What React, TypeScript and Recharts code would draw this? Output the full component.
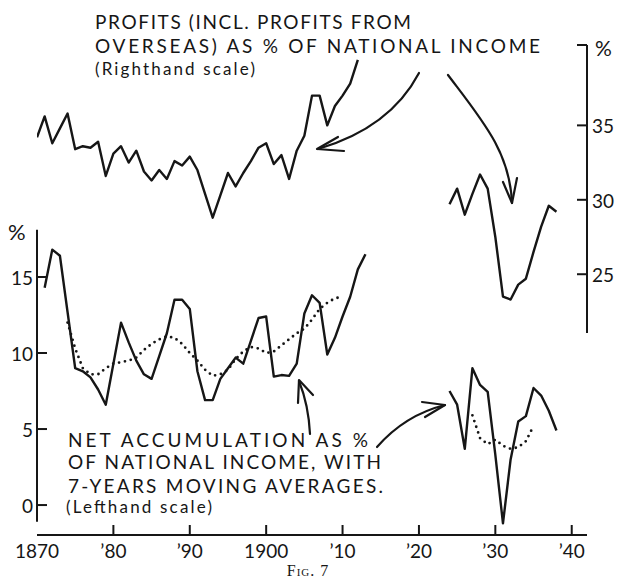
import { ComposedChart, Line, XAxis, YAxis, ReferenceLine } from 'recharts';

// profits (incl. profits from overseas) as % of national income, righthand scale
const PROFIT_EARLY_START = 1870;
const profitEarly = [
  34.2, 35.6, 33.8, 34.8, 35.8, 33.4, 33.6, 33.5, 33.9, 31.6,
  33.1, 33.6, 32.5, 33.3, 31.9, 31.3, 32.0, 31.4, 32.6, 32.3,
  32.9, 32.0, 30.4, 28.8, 30.3, 31.8, 30.9, 31.8, 32.6, 33.5,
  33.8, 32.4, 33.0, 31.4, 33.3, 34.3, 37.0, 37.0, 35.0, 36.3,
  37.0, 37.8, 39.4,
];
const PROFIT_LATE_START = 1924;
const profitLate = [29.7, 30.75, 29.0, 30.4, 31.7, 30.75, 27.5, 23.5, 23.3, 24.3, 24.7, 26.5, 28.2, 29.6, 29.2];

// net accumulation as % of national income, lefthand scale
const NET_EARLY_START = 1871;
const netEarly = [
  14.3, 16.8, 16.4, 12.7, 9.0, 8.8, 8.4, 7.6, 6.6, 9.3,
  12.0, 10.7, 9.5, 8.6, 8.3, 9.8, 11.3, 13.5, 13.5, 12.9,
  8.8, 6.9, 6.9, 8.3, 9.0, 9.7, 9.3, 10.8, 12.3, 12.4,
  8.45, 8.55, 8.5, 9.3, 12.6, 13.8, 13.3, 9.9, 11.0, 12.4,
  13.7, 15.5, 16.5,
];
const NET_LATE_START = 1924;
const netLate = [7.5, 6.6, 3.7, 9.0, 7.9, 7.45, 3.3, -1.2, 3.0, 5.5, 5.85, 7.7, 7.2, 6.2, 4.9];

// 7-years moving averages of net accumulation
const AVG_EARLY_START = 1874;
const avgEarly = [
  12.0, 10.3, 9.0, 8.6, 8.6, 9.0, 9.3, 9.4, 9.5, 9.7,
  10.2, 10.6, 10.9, 11.1, 11.0, 10.6, 10.0, 9.5, 8.9, 8.5,
  8.6, 8.9, 9.6, 10.1, 10.4, 10.3, 10.0, 10.1, 10.5, 10.9,
  11.3, 11.6, 12.2, 12.9, 13.3, 13.6, 13.7,
];
const AVG_LATE_START = 1927;
const avgLate = [5.9, 4.4, 4.0, 4.3, 3.9, 3.7, 3.8, 4.2, 5.2];

const yearTicks = [1870, 1880, 1890, 1900, 1910, 1920, 1930, 1940];
const yearLabels = ['1870', '\u201980', '\u201990', '1900', '\u201910', '\u201920', '\u201930', '\u201940'];
const leftTicks = [0, 5, 10, 15];
const rightTicks = [25, 30, 35];

const LEFT_DOMAIN = [-1.97, 30.26];
const RIGHT_DOMAIN = [7.48, 40.4];

const pick = (start: number, arr: number[], year: number) => {
  const i = year - start;
  return i >= 0 && i < arr.length ? arr[i] : null;
};

const data: { year: number; profit: number | null; net: number | null; avg: number | null }[] = [];
for (let y = 1870; y <= 1938; y++) {
  data.push({
    year: y,
    profit: pick(PROFIT_EARLY_START, profitEarly, y) ?? pick(PROFIT_LATE_START, profitLate, y),
    net: pick(NET_EARLY_START, netEarly, y) ?? pick(NET_LATE_START, netLate, y),
    avg: pick(AVG_EARLY_START, avgEarly, y) ?? pick(AVG_LATE_START, avgLate, y),
  });
}

const INK = '#161616';
const FONT = 'Lato, "Open Sans", sans-serif';

const YearTick = (props: any) => {
  const { x, y, payload } = props;
  const i = yearTicks.indexOf(payload.value);
  return (
    <g>
      {payload.value !== 1870 && <line x1={x} x2={x} y1={y - 10} y2={y} stroke={INK} strokeWidth={2} />}
      <text x={x} y={y + 23} textAnchor="middle" fontSize={19} fontFamily={FONT} fill={INK}>
        {yearLabels[i]}
      </text>
    </g>
  );
};

const LeftTick = (props: any) => {
  const { x, y, payload } = props;
  return (
    <g>
      <line x1={x} x2={x + 10} y1={y} y2={y} stroke={INK} strokeWidth={2} />
      <text x={x - 4} y={y + 8} textAnchor="end" fontSize={19} fontFamily={FONT} fill={INK}>
        {payload.value}
      </text>
    </g>
  );
};

const RightTick = (props: any) => {
  const { x, y, payload } = props;
  const isUnit = payload.value === RIGHT_DOMAIN[1];
  return (
    <g>
      <line x1={x - 10} x2={x} y1={y} y2={y} stroke={INK} strokeWidth={2} />
      <text x={x + (isUnit ? 8 : 5)} y={y + (isUnit ? 11 : 8)} fontSize={isUnit ? 21 : 19} fontFamily={FONT} fill={INK}>
        {isUnit ? '%' : payload.value}
      </text>
    </g>
  );
};

export default function App() {
  const textStyle = { fontFamily: FONT, fill: INK } as const;
  return (
    <div style={{ position: 'absolute', left: 0, top: 0, width: 620, height: 578, background: '#fff' }}>
      <ComposedChart width={620} height={578} data={data} margin={{ top: 45, right: 1, bottom: 3, left: 1 }}>
        <XAxis
          dataKey="year"
          type="number"
          domain={[1870, 1942]}
          allowDataOverflow
          ticks={yearTicks}
          interval={0}
          height={40}
          tickSize={0}
          tickMargin={0}
          tickLine={false}
          axisLine={{ stroke: INK, strokeWidth: 2 }}
          tick={<YearTick />}
        />
        <YAxis
          yAxisId="left"
          orientation="left"
          type="number"
          domain={LEFT_DOMAIN}
          allowDataOverflow
          ticks={leftTicks}
          interval={0}
          width={36}
          tickSize={0}
          tickMargin={0}
          tickLine={false}
          axisLine={false}
          tick={<LeftTick />}
        />
        <YAxis
          yAxisId="right"
          orientation="right"
          type="number"
          domain={RIGHT_DOMAIN}
          allowDataOverflow
          ticks={[...rightTicks, RIGHT_DOMAIN[1]]}
          interval={0}
          width={32}
          tickSize={0}
          tickMargin={0}
          tickLine={false}
          axisLine={false}
          tick={<RightTick />}
        />
        <ReferenceLine
          yAxisId="left"
          segment={[{ x: 1870, y: -1.1 }, { x: 1870, y: 18.1 }]}
          stroke={INK}
          strokeWidth={2}
          ifOverflow="visible"
        />
        <ReferenceLine
          yAxisId="right"
          segment={[{ x: 1942, y: 21.05 }, { x: 1942, y: 40.4 }]}
          stroke={INK}
          strokeWidth={2}
          ifOverflow="visible"
        />
        <Line yAxisId="right" dataKey="profit" type="linear" stroke={INK} strokeWidth={2.4} dot={false} isAnimationActive={false} strokeLinejoin="round" />
        <Line yAxisId="left" dataKey="net" type="linear" stroke={INK} strokeWidth={2.4} dot={false} isAnimationActive={false} strokeLinejoin="round" />
        <Line
          yAxisId="left"
          dataKey="avg"
          type="linear"
          stroke={INK}
          strokeWidth={2.8}
          strokeDasharray="0 6"
          strokeLinecap="round"
          dot={false}
          isAnimationActive={false}
        />
      </ComposedChart>

      {/* annotations and arrows */}
      <svg width={620} height={578} style={{ position: 'absolute', left: 0, top: 0, pointerEvents: 'none' }}>
        <text x={95} y={29} fontSize={19} textLength={316} lengthAdjust="spacing" {...textStyle}>PROFITS (INCL. PROFITS FROM</text>
        <text x={95} y={53} fontSize={19} textLength={445} lengthAdjust="spacing" {...textStyle}>OVERSEAS) AS % OF NATIONAL INCOME</text>
        <text x={95} y={75} fontSize={17} textLength={160} lengthAdjust="spacing" {...textStyle}>(Righthand scale)</text>

        <text x={68} y={447} fontSize={19} textLength={300} lengthAdjust="spacing" {...textStyle}>NET ACCUMULATION AS %</text>
        <text x={68} y={469} fontSize={19} textLength={313} lengthAdjust="spacing" {...textStyle}>OF NATIONAL INCOME, WITH</text>
        <text x={68} y={493} fontSize={19} textLength={315} lengthAdjust="spacing" {...textStyle}>7-YEARS MOVING AVERAGES.</text>
        <text x={66} y={513} fontSize={17} textLength={146} lengthAdjust="spacing" {...textStyle}>(Lefthand scale)</text>

        <text x={8} y={240} fontSize={22} {...textStyle}>%</text>

        <text x={308} y={576} fontSize={16} textAnchor="middle" fontFamily='"Liberation Serif", serif' fill={INK} style={{ fontVariant: 'small-caps', letterSpacing: 1 }}>
          Fig. 7
        </text>

        <g stroke={INK} strokeWidth={2.2} fill="none" strokeLinecap="round" strokeLinejoin="round">
          <path d="M419,73 Q390,128 318,149" />
          <path d="M338,137 L317,149 L344,151" />
          <path d="M448,75 C482,120 510,152 512,203" />
          <path d="M503,182 L512,203 L517,178" />
          <path d="M310,434 C309,414 305,396 299,381" />
          <path d="M298,403 L299,380 L313,395" />
          <path d="M377,447 Q405,415 445,405" />
          <path d="M422,402 L445,405 L425,417" />
        </g>
      </svg>
    </div>
  );
}
